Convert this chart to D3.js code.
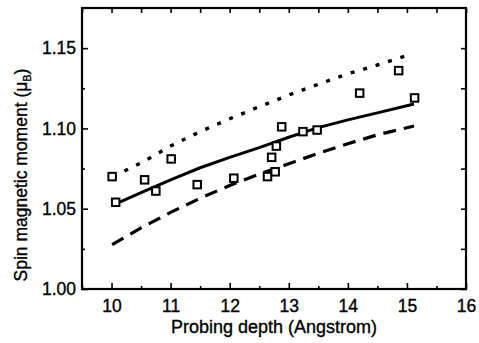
<!DOCTYPE html>
<html>
<head>
<meta charset="utf-8">
<script src="https://cdn.jsdelivr.net/npm/d3@7"></script>
<style>
  body { margin: 0; background: #fff; }
  text { font-family: 'Liberation Sans', Arial, sans-serif; fill: #000; stroke: #000; stroke-width: 0.35px; }
</style>
</head>
<body>
<div class="chart"></div>
<script>
// measured points (squares)
const depth = [10.01, 10.07, 10.56, 10.75, 11.01, 11.45, 12.07, 12.64, 12.71, 12.77, 12.79, 12.88, 13.24, 13.48, 14.2, 14.86, 15.13]
const moment = [1.070, 1.054, 1.068, 1.061, 1.081, 1.065, 1.069, 1.070, 1.082, 1.073, 1.089, 1.101, 1.098, 1.099, 1.122, 1.136, 1.119]

// solid curve
const solidX = [10.07, 10.5, 11, 11.5, 12, 12.5, 13, 13.25, 13.5, 14, 14.5, 15.12]
const solidY = [1.053, 1.060, 1.068, 1.0755, 1.082, 1.088, 1.0945, 1.0975, 1.1005, 1.1053, 1.1097, 1.1152]

// dotted curve
const dotX = [10.02, 10.5, 11, 11.5, 12, 12.5, 13, 13.5, 14, 14.5, 15.1]
const dotY = [1.070, 1.0785, 1.089, 1.098, 1.106, 1.1135, 1.1208, 1.1275, 1.134, 1.1395, 1.1465]

// dashed curve
const dashX = [10.01, 10.5, 11, 11.5, 12, 12.5, 13, 13.5, 14, 14.5, 15.12]
const dashY = [1.0277, 1.038, 1.0477, 1.0565, 1.0645, 1.0715, 1.078, 1.0845, 1.0905, 1.096, 1.1015]

const xMajor = [10, 11, 12, 13, 14, 15, 16]
const xMinor = [9.5, 10.5, 11.5, 12.5, 13.5, 14.5, 15.5]
const yMajor = [1.0, 1.05, 1.1, 1.15]
const yMinor = [1.025, 1.075, 1.125]

const width = 479
const height = 343
const margin = { top: 8, right: 13, bottom: 54, left: 82 }
const innerW = width - margin.left - margin.right
const innerH = height - margin.top - margin.bottom

const x = d3.scaleLinear().domain([9.5, 16]).range([0, innerW])
const y = d3.scaleLinear().domain([1.0, 1.175]).range([innerH, 0])

const svg = d3
  .select('.chart')
  .append('svg')
  .attr('width', width)
  .attr('height', height)

const g = svg.append('g').attr('transform', `translate(${margin.left},${margin.top})`)

// axes: ticks pointing inward
function styleAxis(sel) {
  sel.select('.domain').remove()
  sel.selectAll('line').attr('stroke', '#000').attr('stroke-width', 1.6)
  sel.selectAll('text').style('font-size', '17.5px').attr('fill', '#000')
}

g.append('g')
  .attr('transform', `translate(0,${innerH})`)
  .call(d3.axisBottom(x).tickValues(xMajor).tickSize(-6).tickPadding(11).tickFormat(d3.format('d')))
  .call(styleAxis)
g.append('g')
  .attr('transform', `translate(0,${innerH})`)
  .call(d3.axisBottom(x).tickValues(xMinor).tickSize(-3).tickFormat(''))
  .call(styleAxis)
g.append('g')
  .call(d3.axisTop(x).tickValues(xMajor.concat(xMinor)).tickSize(-5).tickFormat(''))
  .call(styleAxis)

g.append('g')
  .call(d3.axisLeft(y).tickValues(yMajor).tickSize(-6).tickPadding(6).tickFormat(d3.format('.2f')))
  .call(styleAxis)
g.append('g')
  .call(d3.axisLeft(y).tickValues(yMinor).tickSize(-3).tickFormat(''))
  .call(styleAxis)
g.append('g')
  .attr('transform', `translate(${innerW},0)`)
  .call(d3.axisRight(y).tickValues(yMajor.concat(yMinor)).tickSize(-5).tickFormat(''))
  .call(styleAxis)

g.append('rect')
  .attr('width', innerW)
  .attr('height', innerH)
  .attr('fill', 'none')
  .attr('stroke', '#000')
  .attr('stroke-width', 2.2)

const line = d3.line().x((d) => x(d[0])).y((d) => y(d[1]))

g.append('path')
  .datum(d3.zip(solidX, solidY))
  .attr('d', line)
  .attr('fill', 'none')
  .attr('stroke', '#000')
  .attr('stroke-width', 3)

g.append('path')
  .datum(d3.zip(dotX, dotY))
  .attr('d', line)
  .attr('fill', 'none')
  .attr('stroke', '#000')
  .attr('stroke-width', 3.4)
  .attr('stroke-dasharray', '4,9')

g.append('path')
  .datum(d3.zip(dashX, dashY))
  .attr('d', line)
  .attr('fill', 'none')
  .attr('stroke', '#000')
  .attr('stroke-width', 3.2)
  .attr('stroke-dasharray', '13,8')

const sq = 7.5
g.selectAll('rect.pt')
  .data(d3.zip(depth, moment))
  .enter()
  .append('rect')
  .attr('class', 'pt')
  .attr('x', (d) => x(d[0]) - sq / 2)
  .attr('y', (d) => y(d[1]) - sq / 2)
  .attr('width', sq)
  .attr('height', sq)
  .attr('fill', '#fff')
  .attr('stroke', '#000')
  .attr('stroke-width', 2)

// axis titles
svg.append('text')
  .attr('x', margin.left + innerW / 2)
  .attr('y', 333)
  .attr('text-anchor', 'middle')
  .style('font-size', '18px')
  .text('Probing depth (Angstrom)')

const yt = svg.append('text')
  .attr('transform', 'translate(27,175) rotate(-90)')
  .attr('text-anchor', 'middle')
  .style('font-size', '17.5px')
yt.append('tspan').text('Spin magnetic moment (μ')
yt.append('tspan').attr('dy', 4).style('font-size', '11px').text('B')
yt.append('tspan').attr('dy', -4).text(')')
</script>
</body>
</html>
